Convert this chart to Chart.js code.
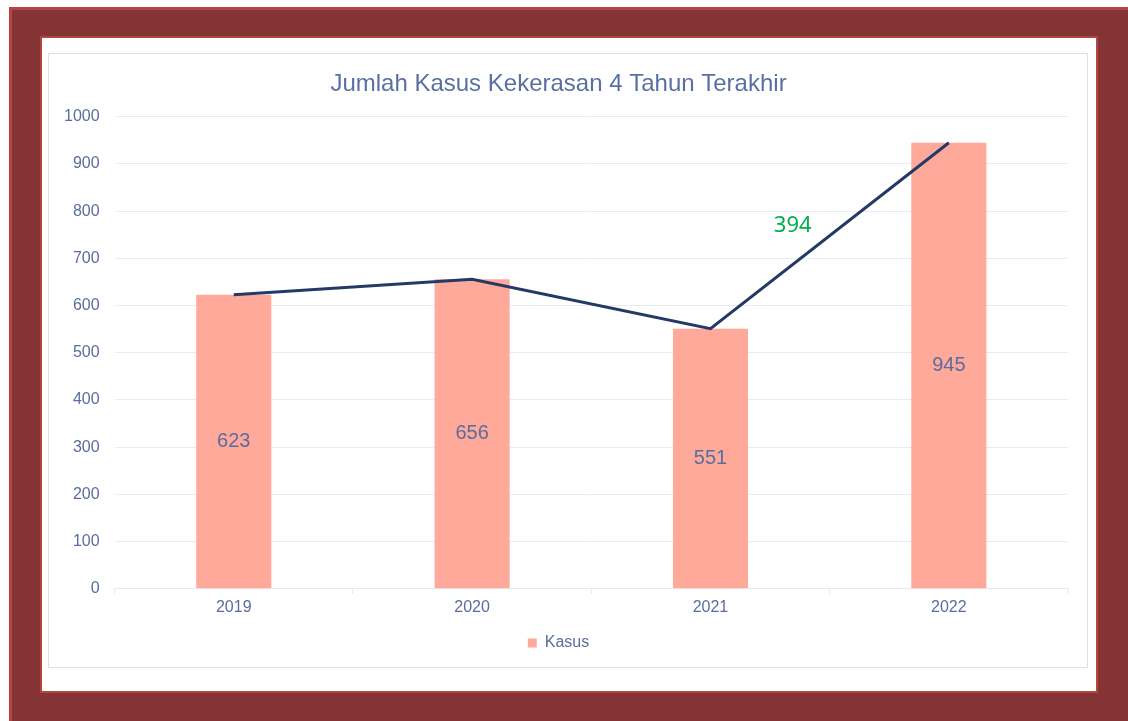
<!DOCTYPE html>
<html>
<head>
<meta charset="utf-8">
<script src="https://cdn.jsdelivr.net/npm/chart.js@4"></script>
<style>
  body { margin: 0; background: #fff; width: 1128px; height: 721px; position: relative; overflow: hidden; }
  #frame { position: absolute; left: 9px; top: 7px; width: 1119px; height: 714px; background: #853436;
           border-left: 3px solid #b3443f; border-top: 3px solid #b3443f; box-sizing: border-box; }
  #paper { position: absolute; left: 40px; top: 36px; width: 1058px; height: 657px; background: #fff;
           border: 2px solid #b3443f; box-sizing: border-box; }
  #box { position: absolute; left: 48px; top: 53px; width: 1040px; height: 615px;
         border: 1px solid #dbe1ec; box-sizing: border-box; background: #fff; }
  #box canvas { position: absolute; left: 0; top: 0; }
</style>
</head>
<body>
<div id="frame"></div>
<div id="paper"></div>
<div id="box"><canvas id="myChart" width="1038" height="613"></canvas></div>
<script>
// data
let years = ["2019", "2020", "2021", "2022"];
let kasus = [623, 656, 551, 945];
let noteText = "394";

let textColor = "#5b6d9e";
let fontFam = '"Liberation Sans", Arial, sans-serif';

// labels inside the bars + the loose green number
let barLabels = {
    id: 'barLabels',
    afterDatasetsDraw(chart) {
        let ctx = chart.ctx;
        let meta = chart.getDatasetMeta(1);
        ctx.save();
        ctx.font = '20px ' + fontFam;
        ctx.fillStyle = textColor;
        ctx.textAlign = 'center';
        ctx.textBaseline = 'middle';
        meta.data.forEach((bar, i) => {
            ctx.fillText(String(kasus[i]), bar.x, (bar.y + bar.base) / 2);
        });
        let xs = chart.scales.x, ys = chart.scales.y;
        ctx.font = '22px "Noto Sans", "Open Sans", sans-serif';
        ctx.fillStyle = '#00b050';
        ctx.fillText(noteText, xs.getPixelForValue(2.345), ys.getPixelForValue(770));
        ctx.restore();
    }
};

let el = document.getElementById('myChart').getContext('2d');
let myChart = new Chart(el, {
    data: {
        labels: years,
        datasets: [{
            type: 'line',
            label: 'Trend',
            data: kasus,
            borderColor: '#243a66',
            borderWidth: 3,
            pointRadius: 0,
            tension: 0,
            order: 0
        }, {
            type: 'bar',
            label: 'Kasus',
            data: kasus,
            backgroundColor: '#ffa99b',
            barPercentage: 0.315,
            categoryPercentage: 1,
            order: 1
        }]
    },
    options: {
        responsive: false,
        animation: false,
        layout: { padding: { left: 0, right: 19, top: 0, bottom: 6 } },
        font: { family: fontFam },
        plugins: {
            title: {
                display: true,
                text: 'Jumlah Kasus Kekerasan 4 Tahun Terakhir',
                color: '#5a6fa3',
                font: { size: 24, weight: 'normal', family: fontFam },
                padding: { top: 16, bottom: 18 }
            },
            legend: {
                position: 'bottom',
                labels: {
                    filter: (item) => item.text === 'Kasus',
                    boxWidth: 9,
                    boxHeight: 9,
                    color: textColor,
                    font: { size: 16, family: fontFam },
                    padding: 12
                }
            },
            tooltip: { enabled: false }
        },
        scales: {
            x: {
                offset: true,
                grid: { offset: true, drawOnChartArea: false, drawTicks: true, tickLength: 5, color: '#e6e9f0' },
                border: { color: '#e6e9f0', width: 1 },
                ticks: { color: textColor, font: { size: 16, family: fontFam }, padding: 4 },
                afterFit: (s) => { s.height += 2; }
            },
            y: {
                min: 0,
                max: 1000,
                ticks: {
                    stepSize: 100,
                    color: textColor,
                    font: { size: 16, family: fontFam },
                    padding: 15,
                    callback: (v) => String(v)
                },
                grid: { color: '#e8ebf3', drawTicks: false },
                border: { display: false }
            }
        }
    },
    plugins: [barLabels]
});
</script>
</body>
</html>
